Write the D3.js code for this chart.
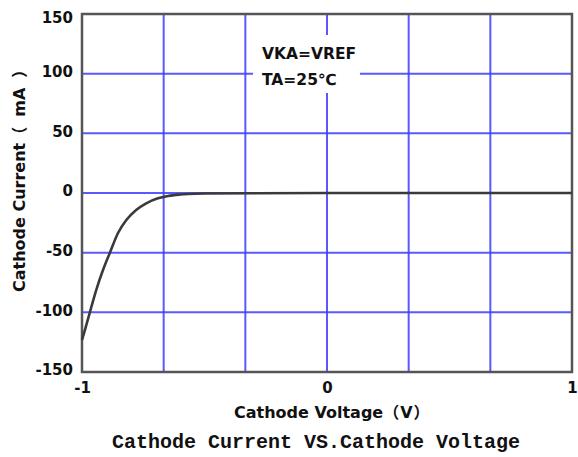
<!DOCTYPE html>
<html>
<head>
<meta charset="utf-8">
<script src="https://cdn.jsdelivr.net/npm/d3@7/dist/d3.min.js"></script>
<style>
  html, body { margin: 0; padding: 0; background: #fff; }
  svg { display: block; }
</style>
</head>
<body>
<script>
// ---- data ----
const voltage = [-1, -0.996, -0.969, -0.942, -0.915, -0.887, -0.853, -0.819, -0.779, -0.738, -0.690, -0.649, -0.6, -0.568, -0.5, 0, 0.5, 1];
const current = [-123, -120.4, -100.8, -81.3, -65, -50.5, -33.5, -22.6, -14.2, -8.6, -4.4, -2.5, -1.3, -0.8, -0.4, 0, 0, 0];
const xGridValues = [-1, -2/3, -1/3, 0, 1/3, 2/3, 1];
const xTickLabels = [-1, 0, 1];
const yTickValues = [-150, -100, -50, 0, 50, 100, 150];
const annotationLines = ["VKA=VREF", "TA=25℃"];
const xTitle = ["Cathode Voltage", "（", "V", "）"];
const yTitle = ["Cathode Current", "（", "mA", "）"];
const chartTitle = "Cathode Current VS.Cathode Voltage";

const W = 578, H = 457;
const mLeft = 82, mRight = 572, mTop = 14, mBottom = 372;
const sansFont = "'DejaVu Sans', Verdana, 'Noto Sans CJK SC', sans-serif";
const fmt = d => String(d).replace("\u2212", "-");

const svg = d3.select("body").append("svg").attr("width", W).attr("height", H);

const x = d3.scaleLinear().domain([-1, 1]).range([mLeft, mRight]);
const y = d3.scaleLinear().domain([-150, 150]).range([mBottom, mTop]);

// grid
const grid = svg.append("g").attr("stroke", "#3c3cff").attr("stroke-width", 2).attr("stroke-opacity", 0.85);
grid.selectAll("line.v").data(xGridValues.slice(1, -1)).enter().append("line")
  .attr("x1", d => x(d)).attr("x2", d => x(d)).attr("y1", mTop).attr("y2", mBottom);
grid.selectAll("line.h").data(yTickValues.slice(1, -1)).enter().append("line")
  .attr("x1", mLeft).attr("x2", mRight).attr("y1", d => y(d)).attr("y2", d => y(d));

// annotation box (white background covering grid)
svg.append("rect").attr("x", 253).attr("y", 35).attr("width", 107).attr("height", 58).attr("fill", "#fff");
svg.append("g").selectAll("text").data(annotationLines).enter().append("text")
  .attr("x", 262).attr("y", (d, i) => 59 + i * 26)
  .attr("font-family", sansFont).attr("font-weight", "bold").attr("font-size", 15.5)
  .attr("fill", "#111").text(d => d);

// frame
svg.append("rect").attr("x", mLeft).attr("y", mTop).attr("width", mRight - mLeft).attr("height", mBottom - mTop)
  .attr("fill", "none").attr("stroke", "#555").attr("stroke-width", 2.5);

// curve
const pts = voltage.map((v, i) => [v, current[i]]);
const line = d3.line().x(d => x(d[0])).y(d => y(d[1])).curve(d3.curveMonotoneX);
svg.append("path").datum(pts).attr("d", line)
  .attr("fill", "none").attr("stroke", "#3a3a3a").attr("stroke-width", 2.6);

// y axis tick labels
const yAxis = d3.axisLeft(y).tickValues(yTickValues).tickSize(0).tickPadding(9).tickFormat(fmt);
const yg = svg.append("g").attr("transform", `translate(${mLeft},0)`).call(yAxis);
yg.select(".domain").remove();
yg.selectAll("text").attr("font-family", sansFont).attr("font-weight", "bold")
  .attr("font-size", 15).attr("fill", "#111").attr("dy", "0.18em");
yg.selectAll(".tick").filter(d => d === 150).select("text").attr("dy", "0.55em");

// x axis tick labels
const xAxis = d3.axisBottom(x).tickValues(xTickLabels).tickSize(0).tickPadding(10).tickFormat(fmt);
const xg = svg.append("g").attr("transform", `translate(0,${mBottom})`).call(xAxis);
xg.select(".domain").remove();
xg.selectAll("text").attr("font-family", sansFont).attr("font-weight", "bold")
  .attr("font-size", 15).attr("fill", "#111");

// x title
const xt = svg.append("text").attr("x", 234).attr("y", 418).attr("text-anchor", "start")
  .attr("font-family", sansFont).attr("font-weight", "bold").attr("font-size", 16).attr("fill", "#111");
xt.append("tspan").text(xTitle[0]);
xt.append("tspan").attr("dx", 0).text(xTitle[1]);
xt.append("tspan").attr("dx", 1).text(xTitle[2]);
xt.append("tspan").attr("dx", 1).text(xTitle[3]);

// y title
const yt = svg.append("text").attr("transform", "translate(25,292) rotate(-90)").attr("text-anchor", "start")
  .attr("font-family", sansFont).attr("font-weight", "bold").attr("font-size", 16).attr("fill", "#111");
yt.append("tspan").text(yTitle[0]);
yt.append("tspan").attr("dx", 0).text(yTitle[1]);
yt.append("tspan").attr("dx", 10).text(yTitle[2]);
yt.append("tspan").attr("dx", 10).text(yTitle[3]);

// chart title
svg.append("text").attr("x", 316).attr("y", 448).attr("text-anchor", "middle")
  .attr("font-family", "'Liberation Mono', 'DejaVu Sans Mono', monospace").attr("font-weight", "bold")
  .attr("font-size", 20).attr("fill", "#111").text(chartTitle);
</script>
</body>
</html>
